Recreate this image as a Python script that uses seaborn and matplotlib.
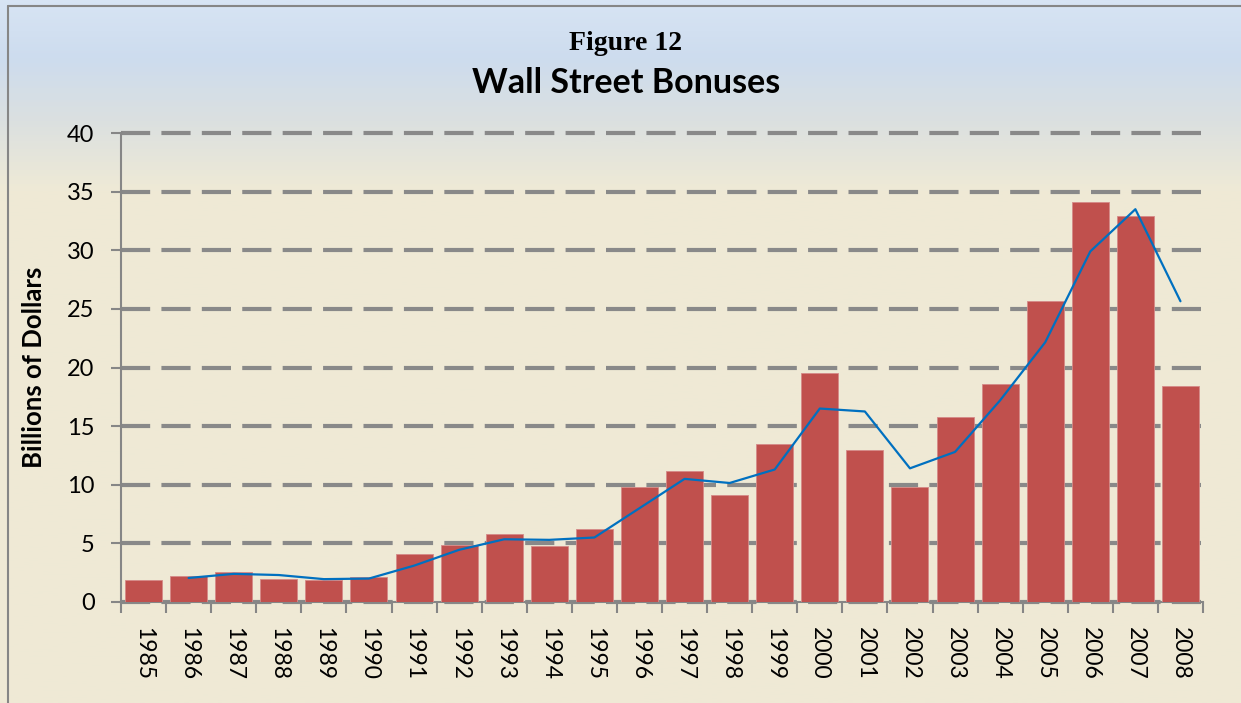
import numpy as np
import pandas as pd
import matplotlib.pyplot as plt
import seaborn as sns
from matplotlib.colors import LinearSegmentedColormap
from matplotlib.lines import Line2D

years = [str(y) for y in range(1985, 2009)]
bonuses = [1.9, 2.2, 2.6, 2.0, 1.9, 2.1, 4.1, 4.9, 5.8, 4.8, 6.2, 9.8,
           11.2, 9.1, 13.5, 19.5, 13.0, 9.8, 15.8, 18.6, 25.7, 34.1, 32.9, 18.4]

# two-year average line, starts in 1986
avg_years = years[1:]
avg_values = [2.05, 2.4, 2.3, 1.95, 2.0, 3.1, 4.45, 5.35, 5.3, 5.5, 8.0,
              10.5, 10.15, 11.3, 16.5, 16.25, 11.4, 12.8, 17.2, 22.15,
              29.9, 33.5, 25.65]

df = pd.DataFrame({'year': years, 'bonus': bonuses})
avg_df = pd.DataFrame({'pos': [years.index(y) for y in avg_years],
                       'avg': avg_values})

sns.set_style('white')
plt.rcParams['font.family'] = ['Lato', 'DejaVu Sans']
plt.rcParams['text.color'] = 'black'
plt.rcParams['xtick.color'] = 'black'
plt.rcParams['ytick.color'] = 'black'
plt.rcParams['axes.labelcolor'] = 'black'

fig = plt.figure(figsize=(12.41, 7.03), dpi=100)

# gradient background
bg = fig.add_axes([0, 0, 1, 1], zorder=-10)
cmap = LinearSegmentedColormap.from_list(
    'bg', [(0.0, '#d7e4f4'), (0.08, '#cddcee'), (0.17, '#dbe0e0'),
           (0.27, '#efead6'), (1.0, '#efe9d5')])
grad = np.linspace(0, 1, 400).reshape(-1, 1)
bg.imshow(grad, aspect='auto', cmap=cmap, extent=[0, 1, 0, 1], origin='upper')
bg.axis('off')

fig.add_artist(Line2D([8 / 1241, 8 / 1241], [0, 1 - 6 / 703],
                      color='#868686', lw=1.5, transform=fig.transFigure))
fig.add_artist(Line2D([8 / 1241, 1], [1 - 6 / 703, 1 - 6 / 703],
                      color='#868686', lw=1.5, transform=fig.transFigure))

ax = fig.add_axes([121 / 1241, 1 - 602 / 703, (1203 - 121) / 1241, (602 - 133) / 703])
ax.patch.set_alpha(0)

sns.barplot(x='year', y='bonus', data=df, color='#c0504d', saturation=1,
            width=0.82, edgecolor='#d58a88', linewidth=0.6, ax=ax, zorder=3)
sns.lineplot(x='pos', y='avg', data=avg_df, color='#0070c0', linewidth=1.6,
             ax=ax, zorder=4)

ax.set_xlim(-0.5, len(years) - 0.5)
ax.set_ylim(0, 40)
ax.set_yticks(range(0, 45, 5))
ax.yaxis.grid(True, color='#898989', linewidth=3, linestyle=(0, (7, 2.7)), zorder=1)
ax.xaxis.grid(False)
ax.set_axisbelow(True)
for gl in ax.get_ygridlines():
    gl.set_clip_on(False)

for s in ['top', 'right']:
    ax.spines[s].set_visible(False)
for s in ['left', 'bottom']:
    ax.spines[s].set_color('#868686')
    ax.spines[s].set_linewidth(1.5)

# ticks between categories
ax.set_xticks(np.arange(-0.5, len(years), 1), minor=False)
ax.set_xticklabels([])
ax.set_xticks(np.arange(len(years)), minor=True)
ax.set_xticklabels(years, minor=True, rotation=270, fontsize=16.5)
ax.tick_params(axis='x', which='major', length=8, width=1.5, color='#868686', direction='out')
ax.tick_params(axis='x', which='minor', length=0, pad=18)
ax.tick_params(axis='y', length=7, width=1.5, color='#868686', direction='out',
               labelsize=17, pad=12)
ax.tick_params(axis='both', bottom=True, left=True, which='both')

ax.set_xlabel('')
ax.set_ylabel('Billions of Dollars', fontsize=18.5, fontweight='bold')
ax.yaxis.set_label_coords(-0.069, 0.5)

fig.text(626 / 1241, 1 - 44 / 703, 'Figure 12', ha='center', va='center',
         fontsize=20, fontweight='bold', family='Liberation Serif')
fig.text(626 / 1241, 1 - 83 / 703, 'Wall Street Bonuses', ha='center', va='center',
         fontsize=24.5, fontweight='bold')

fig.savefig('out.png', dpi=100)
